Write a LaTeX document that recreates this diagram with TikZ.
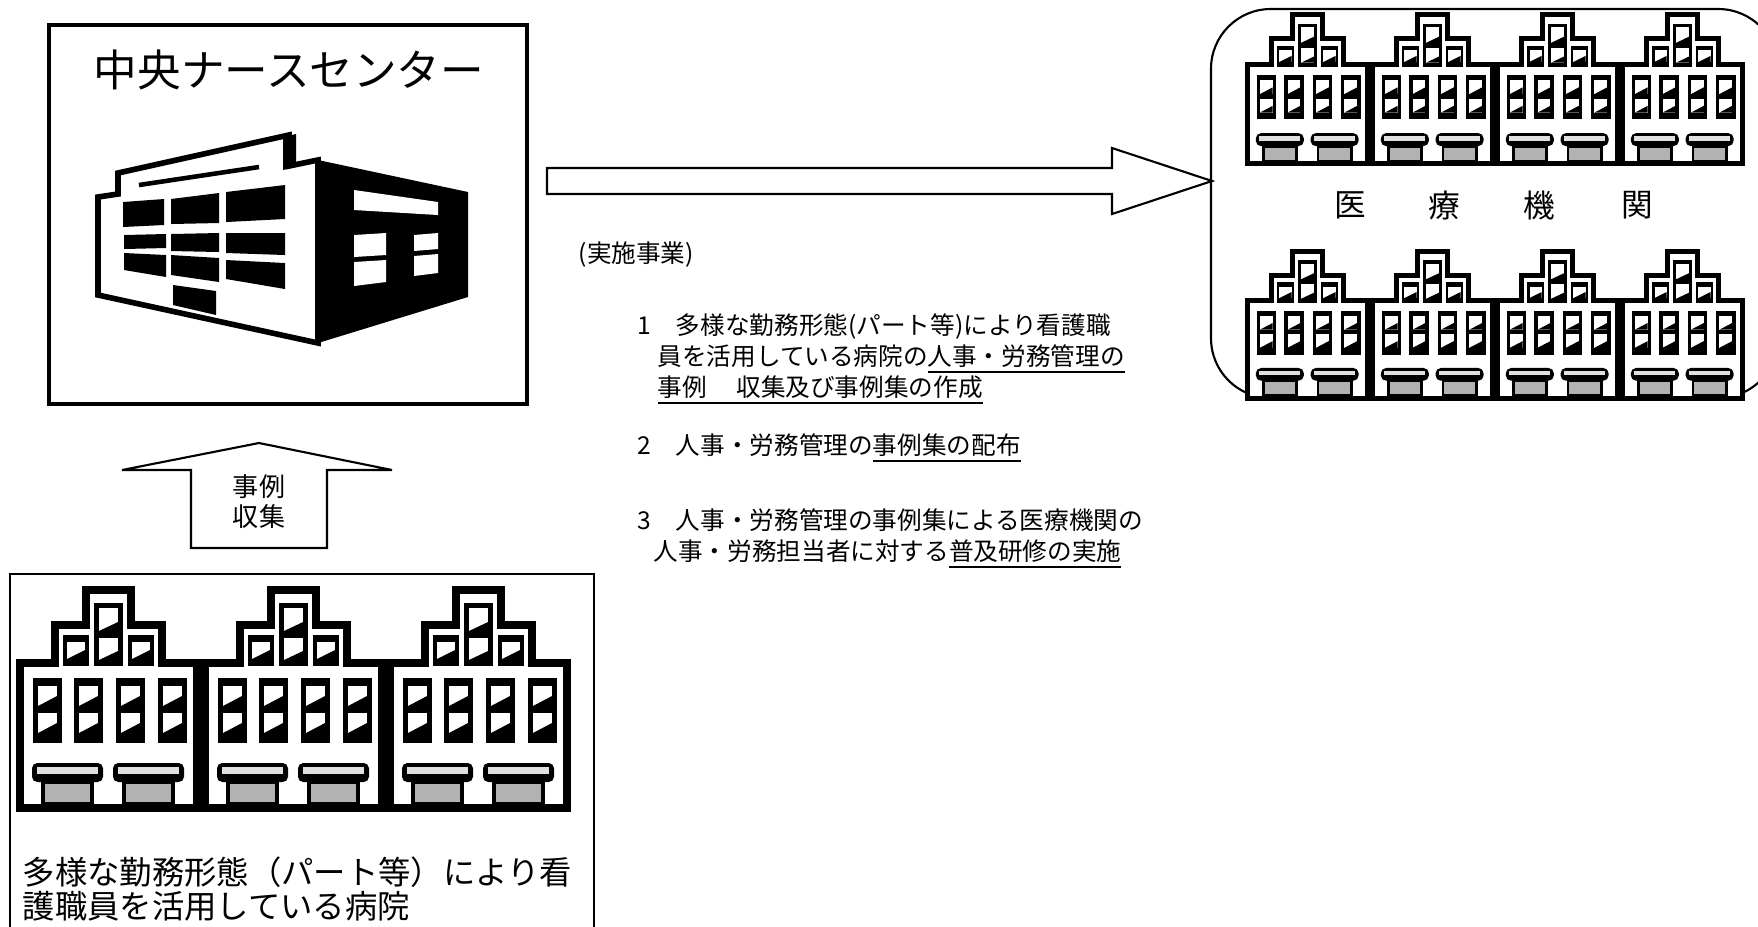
\documentclass[tikz,border=0pt]{standalone}
\usepackage{fontspec}
\setmainfont{Noto Sans CJK JP}
\usepackage{tikz}

\begin{document}
\begin{tikzpicture}[x=0.01cm,y=-0.01cm,line join=miter,
  thinline/.style={line width=0.6pt},
  body/.style={inner sep=0pt,anchor=base west,font=\fontsize{7pt}{8pt}\selectfont},
  big/.style={inner sep=0pt,font=\fontsize{9.2pt}{11pt}\selectfont},
  pics/hospital/.style={code={
    % stepped gable and walls
    \draw[line width=#1,fill=white]
      (4,225) -- (4,80) -- (39,80) -- (39,42) -- (70,42) -- (70,7)
      -- (115,7) -- (115,42) -- (146,42) -- (146,80) -- (181,80) -- (181,225) -- cycle;
    % gable windows
    \fill (78,20) rectangle (107,83);
    \fill (47,52) rectangle (73,83);
    \fill (112,52) rectangle (138,83);
    \foreach \l/\t/\r/\b in {83/25/102/48,83/55/102/77,51/59/69/76,116/59/134/76}{
      \fill[white] (\l,\t) rectangle (\r,\b);
      \fill (\l,\b) -- (\r,\b) -- (\r,\b-9) -- cycle;
    }
    % windows of the main floor
    \foreach \x in {17,58,100,142}{
      \fill (\x,95) rectangle ++(29,65);
      \foreach \t in {103,130}{
        \fill[white] (\x+5,\t) rectangle ++(19,20);
        \fill (\x+5,\t+20) -- ++(19,0) -- ++(0,-10) -- cycle;
      }
    }
    % entrances
    \foreach \x in {16,97}{
      \fill[rounded corners=1.5pt] (\x,180) rectangle ++(71,19);
      \fill[black!12] (\x+5,184) rectangle ++(61,7);
      \fill (\x+9,197) rectangle ++(53,26);
      \fill[black!30] (\x+13,201) rectangle ++(45,18);
    }
  }}]
\useasboundingbox (0,0) rectangle (1758,926);
\clip (0,0) rectangle (1758,926);
\fill[white] (0,0) rectangle (1758,926);

% nurse center
\coordinate (NW) at (49,25);
\coordinate (SE) at (527,404);
\draw[line width=1.1pt] (NW) rectangle (SE);
\node[inner sep=0pt,font=\fontsize{12.4pt}{14pt}\selectfont] (title) at (289,70) {中央ナースセンター};

% center building: front face
\draw[line width=1.6pt,fill=white] (98,295) -- (98,197) -- (118,194) -- (118,173) -- (289,135)
  -- (289,166) -- (318,160) -- (318,343) -- cycle;
\fill (283,137) -- (296,134) -- (296,167) -- (283,170) -- cycle;
\draw[line width=1.3pt] (139,185) -- (259,167);
% front windows and door
\fill (123,202) -- (164,199) -- (164,225) -- (123,227) -- cycle;
\fill (171,199) -- (219,193) -- (219,223) -- (171,224) -- cycle;
\fill (226,192) -- (285,185) -- (285,219) -- (226,222) -- cycle;
\fill (124,235) -- (166,234) -- (166,248) -- (124,249) -- cycle;
\fill (171,234) -- (219,233) -- (219,252) -- (171,251) -- cycle;
\fill (226,233) -- (285,233) -- (285,255) -- (226,253) -- cycle;
\fill (124,253) -- (166,255) -- (166,277) -- (124,270) -- cycle;
\fill (171,255) -- (219,258) -- (219,282) -- (171,275) -- cycle;
\fill (226,260) -- (285,263) -- (285,289) -- (226,279) -- cycle;
\fill (173,285) -- (216,291) -- (216,315) -- (173,305) -- cycle;
% side face
\fill (318,160) -- (468,192) -- (468,297) -- (318,343) -- cycle;
\fill[white] (354,190) -- (438,202) -- (438,215) -- (354,210) -- cycle;
\fill[white] (354,235) -- (386,233) -- (386,255) -- (354,257) -- cycle;
\fill[white] (354,262) -- (386,260) -- (386,282) -- (354,286) -- cycle;
\fill[white] (414,235) -- (438,233) -- (438,249) -- (414,251) -- cycle;
\fill[white] (414,256) -- (438,254) -- (438,273) -- (414,276) -- cycle;

% medical institutions
\coordinate (tipR) at (1212,181);
\draw[thinline,rounded corners=17pt] (1211,9) rectangle (1778,398);
\foreach \i in {0,...,3}{
  \pic[xscale=0.676,yscale=0.684] at (1245+125*\i,10) {hospital=1.4pt};
  \pic[xscale=0.676,yscale=0.672] at (1245+125*\i,247) {hospital=1.4pt};
}
\foreach \c/\x [count=\n] in {医/1350,療/1444,機/1539,関/1637}
  \node[inner sep=0pt,font=\fontsize{9pt}{11pt}\selectfont] (iryo\n) at (\x,205) {\c};

% hospitals using varied work styles
\draw[thinline] (10,574) rectangle (594,940);
\foreach \i in {0,1,2}
  \pic at (16+185*\i,583) {hospital=2.1pt};
\node[big,anchor=base west] (byoin1) at (22,884) {多様な勤務形態（パート等）により看};
\node[big,anchor=base west] (byoin2) at (22,918) {護職員を活用している病院};

% case collection arrow
\coordinate (tipU) at (259,443);
\draw[thinline] (191,548) -- (191,470) -- (122,470) -- (tipU) -- (392,470) -- (327,470) -- (327,548) -- cycle;
\node[inner sep=0pt,font=\fontsize{7.4pt}{9pt}\selectfont] (jirei) at (259,487) {事例};
\node[inner sep=0pt,font=\fontsize{7.4pt}{9pt}\selectfont] (shushu) at (259,517) {収集};

% outgoing arrow
\draw[thinline] (547,168) -- (1112,168) -- (1112,148) -- (tipR) -- (1112,214) -- (1112,194) -- (547,194) -- cycle;

% projects
\node[body] (jisshi) at (578,262) {(実施事業)};
\node[body] (item1) at (637,334) {1\quad 多様な勤務形態(パート等)により看護職};
\node[body] (item1b) at (657,365) {員を活用している病院の\underline{人事・労務管理の}};
\node[body] (item1c) at (657,396) {\underline{事例\hspace{1.2em}収集及び事例集の作成}};
\node[body] (item2) at (637,454) {2\quad 人事・労務管理の\underline{事例集の配布}};
\node[body] (item3) at (637,529) {3\quad 人事・労務管理の事例集による医療機関の};
\node[body] (item3b) at (653,560) {人事・労務担当者に対する\underline{普及研修の実施}};
\end{tikzpicture}
\end{document}
